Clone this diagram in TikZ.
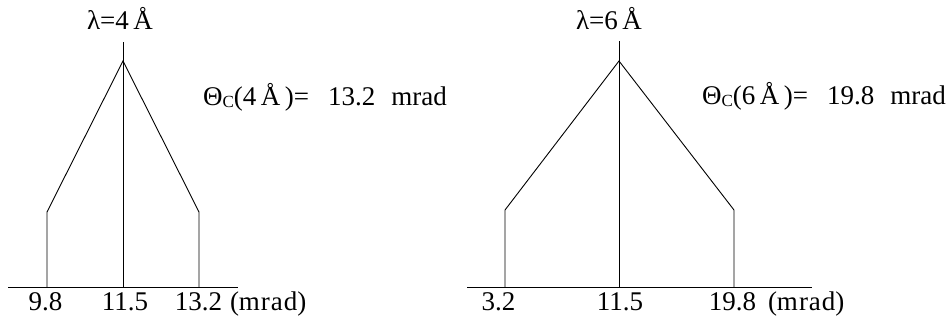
\documentclass[tikz,border=0pt]{standalone}
\usepackage{fontspec}
\setmainfont{Liberation Serif}
\begin{document}
\begin{tikzpicture}[x=1pt,y=-1pt,
  every node/.style={inner sep=0pt,outer sep=0pt,font=\fontsize{27}{32}\selectfont},
  curve/.style={line width=0.9pt,line join=miter},
  lbl/.style={anchor=base},
  lblw/.style={anchor=base west}]
\useasboundingbox (0,0) rectangle (951,324);
\fill[white] (0,0) rectangle (951,324);
% ---------- left diagram ----------
\coordinate (LbL) at (8,287);
\coordinate (LbR) at (238,287);
\coordinate (Ltop) at (123,42);
\coordinate (Lbot) at (123,287);
\coordinate (Lapex) at (123,61);
\coordinate (Lsl) at (47,212);
\coordinate (Lsr) at (199,212);
\coordinate (Lfl) at (47,287);
\coordinate (Lfr) at (199,287);
\draw[curve] (LbL) -- (LbR);
\draw[curve] (Ltop) -- (Lbot);
\draw[curve] (Lfl) -- (Lsl) -- (Lapex) -- (Lsr) -- (Lfr);
\node[lblw] (lam4) at (87,30) {λ=4\,Å};
\node[lblw] (th4) at (203,105) {Θ\raisebox{-2pt}{\fontsize{17}{17}\selectfont C}(4\,Å\,)=\hspace{19pt}13.2\hspace{16pt}mrad};
\node[lbl] (a98) at (45.5,310) {9.8};
\node[lbl] (a115) at (125,310) {11.5};
\node[lbl] (a132) at (198.5,310) {13.2};
\node[lblw] (amr) at (230,310) {(m\hspace{1pt}r\hspace{1pt}a\hspace{1pt}d)};
% ---------- right diagram ----------
\coordinate (RbL) at (467,287);
\coordinate (RbR) at (812,287);
\coordinate (Rtop) at (619,41);
\coordinate (Rbot) at (619,287);
\coordinate (Rapex) at (619,61);
\coordinate (Rsl) at (505,210);
\coordinate (Rsr) at (734,210);
\coordinate (Rfl) at (505,287);
\coordinate (Rfr) at (734,287);
\draw[curve] (RbL) -- (RbR);
\draw[curve] (Rtop) -- (Rbot);
\draw[curve] (Rfl) -- (Rsl) -- (Rapex) -- (Rsr) -- (Rfr);
\node[lblw] (lam6) at (576,29) {λ=6\,Å};
\node[lblw] (th6) at (702,104) {Θ\raisebox{-2pt}{\fontsize{17}{17}\selectfont C}(6\,Å\,)=\hspace{19pt}19.8\hspace{16pt}mrad};
\node[lbl] (b32) at (498.5,310) {3.2};
\node[lbl] (b115) at (620,310) {11.5};
\node[lbl] (b198) at (732.5,310) {19.8};
\node[lblw] (bmr) at (768,310) {(m\hspace{1pt}r\hspace{1pt}a\hspace{1pt}d)};
\end{tikzpicture}
\end{document}
